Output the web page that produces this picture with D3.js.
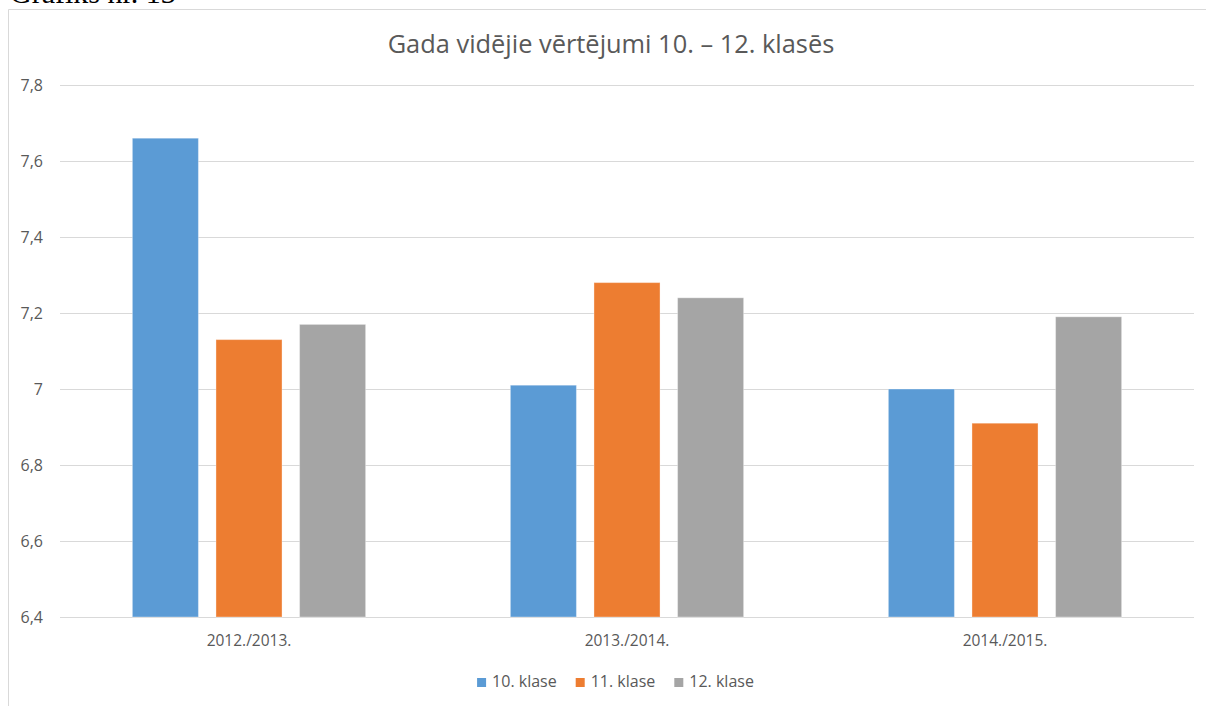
<!DOCTYPE html>
<html>
<head>
<meta charset="utf-8">
<script src="https://cdn.jsdelivr.net/npm/d3@7"></script>
<style>
  body { margin: 0; background: #fff; }
  svg { display: block; }
  .axis text { font-family: "Open Sans", sans-serif; fill: #595959; }
</style>
</head>
<body>
<div id="chart"></div>
<script>
var years = ['2012./2013.', '2013./2014.', '2014./2015.'];
var classes = ['10. klase', '11. klase', '12. klase'];
var grade10 = [7.66, 7.01, 7.00];
var grade11 = [7.13, 7.28, 6.91];
var grade12 = [7.17, 7.24, 7.19];
var yTicks = [6.4, 6.6, 6.8, 7.0, 7.2, 7.4, 7.6, 7.8];
var colors = ['#5b9bd5', '#ed7d31', '#a5a5a5'];

var W = 1206, H = 706;
var margin = {top: 85, right: 12, bottom: 89, left: 60};
var width = W - margin.left - margin.right;
var height = H - margin.top - margin.bottom;

var series = [grade10, grade11, grade12];
var data = years.map(function (yr, i) {
  return {
    year: yr,
    values: classes.map(function (c, j) { return {cls: c, value: series[j][i]}; })
  };
});

var x0 = d3.scaleBand().domain(years).range([0, width])
    .paddingInner(0.29).paddingOuter(0.145);
var x1 = d3.scaleBand().domain(classes).range([0, x0.bandwidth()]).padding(0.21);
var y = d3.scaleLinear().domain([6.4, 7.8]).range([height, 0]);
var z = d3.scaleOrdinal().domain(classes).range(colors);

var svg = d3.select('#chart').append('svg')
    .attr('width', W)
    .attr('height', H);

// caption above the chart frame (cut off at the top)
svg.append('text')
  .attr('x', 10)
  .attr('y', 3)
  .style('font', '30px "Liberation Serif", serif')
  .style('fill', '#000')
  .text('Grafiks nr. 13');

// chart frame
svg.append('path')
  .attr('d', 'M8.5,' + (H + 5) + 'V9.5H' + (W + 5))
  .attr('fill', 'none')
  .attr('stroke', '#d9d9d9')
  .attr('stroke-width', 1);

// title, fitted to the width of the original
var title = svg.append('text')
  .attr('x', 611)
  .attr('y', 53)
  .attr('text-anchor', 'middle')
  .style('font-family', '"Open Sans", sans-serif')
  .style('font-size', '25px')
  .style('fill', '#595959')
  .text('Gada vidējie vērtējumi 10. – 12. klasēs');
var tw = title.node().getComputedTextLength();
title.style('font-size', (25 * 447 / tw) + 'px');

var g = svg.append('g')
    .attr('transform', 'translate(' + margin.left + ',' + margin.top + ')');

// Y axis + gridlines
var yAxis = d3.axisLeft(y)
    .tickValues(yTicks)
    .tickSize(-width)
    .tickPadding(17)
    .tickFormat(function (v) { return String(+v.toFixed(1)).replace('.', ','); });

g.append('g')
  .attr('class', 'axis y-axis')
  .call(yAxis)
  .call(function (s) {
    s.select('.domain').remove();
    s.selectAll('line').attr('stroke', '#d9d9d9');
    s.selectAll('text').style('font-size', '16px');
  });

// bars
var group = g.selectAll('.year')
  .data(data)
  .enter().append('g')
  .attr('class', 'year')
  .attr('transform', function (d) { return 'translate(' + x0(d.year) + ',0)'; });

group.selectAll('rect')
  .data(function (d) { return d.values; })
  .enter().append('rect')
  .attr('x', function (d) { return x1(d.cls); })
  .attr('y', function (d) { return y(d.value); })
  .attr('width', x1.bandwidth())
  .attr('height', function (d) { return height - y(d.value); })
  .attr('fill', function (d) { return z(d.cls); })
  .attr('stroke', '#fff')
  .attr('stroke-opacity', 0.35);

// X axis
g.append('g')
  .attr('class', 'axis x-axis')
  .attr('transform', 'translate(0,' + height + ')')
  .call(d3.axisBottom(x0).tickSize(0).tickPadding(18))
  .call(function (s) {
    s.select('.domain').remove();
    s.selectAll('text').style('font-size', '15.5px');
  });

// legend, centred under the chart
var legend = svg.append('g').attr('class', 'axis legend');
var items = legend.selectAll('g')
  .data(classes)
  .enter().append('g');
items.append('rect')
  .attr('width', 9)
  .attr('height', 9)
  .attr('y', -9)
  .attr('fill', function (d) { return z(d); });
items.append('text')
  .attr('x', 15)
  .style('font-size', '16px')
  .text(function (d) { return d; });

var pos = 0;
items.each(function () {
  var t = d3.select(this).select('text').node().getComputedTextLength();
  d3.select(this).attr('transform', 'translate(' + pos + ',0)');
  pos += 15 + t + 19;
});
var total = pos - 19;
legend.attr('transform', 'translate(' + (615.5 - total / 2) + ',687)');
</script>
</body>
</html>
